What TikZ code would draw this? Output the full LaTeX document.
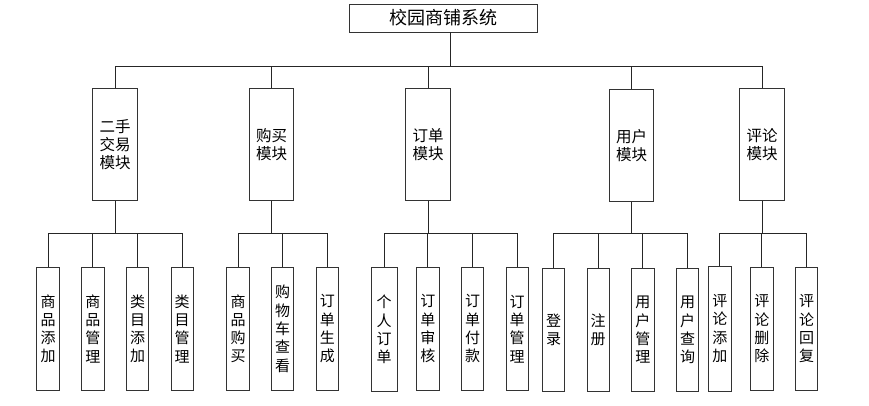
\documentclass[tikz,border=0pt]{standalone}
\usepackage{fontspec}
\newfontfamily\cjk{Noto Sans CJK SC}
\begin{document}
\begin{tikzpicture}[x=1pt,y=-1pt,
  box/.style={draw=black!80,line width=0.9pt,inner sep=0pt,align=center,fill=white},
  rootbox/.style={box,minimum width=188pt,minimum height=28pt,font=\cjk\fontsize{18}{20}\selectfont},
  modbox/.style={box,minimum width=44.5pt,minimum height=111.5pt,font=\cjk\fontsize{15.5}{18.3}\selectfont},
  leafbox/.style={box,minimum width=22.4pt,minimum height=123pt,font=\cjk\fontsize{15}{18.3}\selectfont},
  wire/.style={draw=black!85,line width=0.9pt}]
\useasboundingbox (0,0) rectangle (869,406);

\node[rootbox] (root) at (443,18) {校园商铺系统};

\node[modbox] (m1) at (115,144.5) {二手\\交易\\模块};
\node[modbox] (m2) at (271.5,144.5) {购买\\模块};
\node[modbox] (m3) at (428,144.5) {订单\\模块};
\node[modbox] (m4) at (631.5,145.5) {用户\\模块};
\node[modbox] (m5) at (762,144.5) {评论\\模块};

% leaves
\node[leafbox] (a1) at (48,328.8) {商\\品\\添\\加};
\node[leafbox] (a2) at (92.8,328.8) {商\\品\\管\\理};
\node[leafbox] (a3) at (137.5,328.8) {类\\目\\添\\加};
\node[leafbox] (a4) at (182.2,328.8) {类\\目\\管\\理};

\node[leafbox] (b1) at (238,328.8) {商\\品\\购\\买};
\node[leafbox] (b2) at (282.5,328.8) {购\\物\\车\\查\\看};
\node[leafbox] (b3) at (327.3,328.8) {订\\单\\生\\成};

\node[leafbox,minimum width=26pt,minimum height=124.4pt] (c1) at (384,329.5) {个\\人\\订\\单};
\node[leafbox] (c2) at (427.8,328.8) {订\\单\\审\\核};
\node[leafbox] (c3) at (472.5,328.8) {订\\单\\付\\款};
\node[leafbox] (c4) at (517.2,328.8) {订\\单\\管\\理};

\node[leafbox,minimum height=123.4pt] (d1) at (553.5,330) {登\\录};
\node[leafbox,minimum height=123.4pt] (d2) at (598.2,330) {注\\册};
\node[leafbox,minimum height=123.4pt] (d3) at (642.8,330) {用\\户\\管\\理};
\node[leafbox,minimum height=123.4pt] (d4) at (687.5,330) {用\\户\\查\\询};

\node[leafbox,minimum height=124.7pt] (e1) at (719.8,328.7) {评\\论\\添\\加};
\node[leafbox] (e2) at (761.8,328.8) {评\\论\\删\\除};
\node[leafbox] (e3) at (806.7,328.8) {评\\论\\回\\复};

% top bus
\coordinate (bus) at (450,66);
\draw[wire] (root.south -| bus) -- (bus);
\draw[wire] (m1.north) |- (bus);
\draw[wire] (m5.north) |- (bus);
\draw[wire] (m2.north) -- (m2.north |- bus);
\draw[wire] (m3.north) -- (m3.north |- bus);
\draw[wire] (m4.north) -- (m4.north |- bus);

% group buses
\coordinate (g1) at (115,233.3);
\draw[wire] (m1.south) -- (g1);
\draw[wire] (a1.north) |- (a4.north |- g1) -- (a4.north);
\draw[wire] (a2.north) -- (a2.north |- g1);
\draw[wire] (a3.north) -- (a3.north |- g1);

\coordinate (g2) at (271.5,233.3);
\draw[wire] (m2.south) -- (g2);
\draw[wire] (b1.north) |- (b3.north |- g2) -- (b3.north);
\draw[wire] (b2.north) -- (b2.north |- g2);

\coordinate (g3) at (428,233.3);
\draw[wire] (m3.south) -- (g3);
\draw[wire] (c1.north) |- (c4.north |- g3) -- (c4.north);
\draw[wire] (c2.north) -- (c2.north |- g3);
\draw[wire] (c3.north) -- (c3.north |- g3);

\coordinate (g4) at (631.5,233.3);
\draw[wire] (m4.south) -- (g4);
\draw[wire] (d1.north) |- (d4.north |- g4) -- (d4.north);
\draw[wire] (d2.north) -- (d2.north |- g4);
\draw[wire] (d3.north) -- (d3.north |- g4);

\coordinate (g5) at (762,233.3);
\draw[wire] (m5.south) -- (g5);
\draw[wire] (e1.north) |- (e3.north |- g5) -- (e3.north);
\draw[wire] (e2.north) -- (e2.north |- g5);
\end{tikzpicture}
\end{document}
